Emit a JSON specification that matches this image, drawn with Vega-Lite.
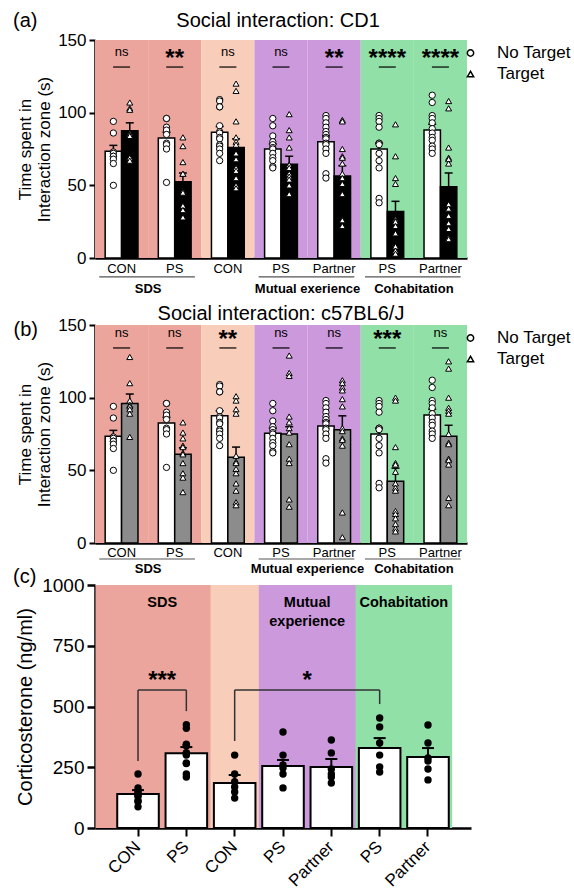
{
"$schema":"https://vega.github.io/schema/vega-lite/v6.json",
"background":"white",
"padding":{"left":13,"top":11,"right":0,"bottom":0},
"bounds":"flush",
"spacing":42,
"config":{
 "view":{"stroke":null},
 "font":"Liberation Sans",
 "axis":{"grid":false,"domainColor":"black","tickColor":"black","labelColor":"black","titleColor":"black","labelFont":"Liberation Sans","titleFont":"Liberation Sans","zindex":1},
 "text":{"font":"Liberation Sans","color":"black"},
 "tick":{"opacity":1},
 "title":{"font":"Liberation Sans","fontWeight":"normal","color":"black","fontSize":20}
},
"datasets":{
 "grp_a":[
  {"grp":"SDS-CON","cohort":"SDS","sig":"ns"},{"grp":"SDS-PS","cohort":"SDS","sig":"**"},{"grp":"CON","cohort":"CON","sig":"ns"},{"grp":"ME-PS","cohort":"ME","sig":"ns"},{"grp":"ME-Partner","cohort":"ME","sig":"**"},{"grp":"Coh-PS","cohort":"Coh","sig":"****"},{"grp":"Coh-Partner","cohort":"Coh","sig":"****"}],
 "grp_b":[
  {"grp":"SDS-CON","cohort":"SDS","sig":"ns"},{"grp":"SDS-PS","cohort":"SDS","sig":"ns"},{"grp":"CON","cohort":"CON","sig":"**"},{"grp":"ME-PS","cohort":"ME","sig":"ns"},{"grp":"ME-Partner","cohort":"ME","sig":"ns"},{"grp":"Coh-PS","cohort":"Coh","sig":"***"},{"grp":"Coh-Partner","cohort":"Coh","sig":"ns"}],
 "under_a":[
  {"from":"SDS-CON","to":"SDS-PS","label":"SDS"},{"from":"ME-PS","to":"ME-Partner","label":"Mutual exerience"},{"from":"Coh-PS","to":"Coh-Partner","label":"Cohabitation"}],
 "under_b":[
  {"from":"SDS-CON","to":"SDS-PS","label":"SDS"},{"from":"ME-PS","to":"ME-Partner","label":"Mutual experience"},{"from":"Coh-PS","to":"Coh-Partner","label":"Cohabitation"}],
 "bands_c":[
  {"cohort":"Coh","from":"Coh-PS","to":"Coh-Partner"},{"cohort":"ME","from":"ME-PS","to":"ME-Partner"},{"cohort":"CON","from":"CON","to":"CON"},{"cohort":"SDS","from":"SDS-CON","to":"SDS-PS"}],
 "labels_c":[
  {"label":"SDS","at":"SDS-PS"},{"label":"Mutual\nexperience","at":"ME-Partner"},{"label":"Cohabitation","at":"Coh-Partner"}],
 "brk_c":[
  {"from":"SDS-CON","to":"SDS-PS","mid":"SDS-PS","top":568,"lb":276,"rb":481,"label":"***"},
  {"from":"CON","to":"Coh-PS","mid":"ME-Partner","top":568,"lb":358,"rb":510,"label":"*"}],
 "sum_a":[
  {"grp":"SDS-CON","tgt":"No Target","mean":73.5,"hi":77.5},{"grp":"SDS-CON","tgt":"Target","mean":87.5,"hi":93},
  {"grp":"SDS-PS","tgt":"No Target","mean":82.5,"hi":86.5},{"grp":"SDS-PS","tgt":"Target","mean":52.5,"hi":58.5},
  {"grp":"CON","tgt":"No Target","mean":86.5,"hi":90.5},{"grp":"CON","tgt":"Target","mean":76,"hi":82},
  {"grp":"ME-PS","tgt":"No Target","mean":75,"hi":78.5},{"grp":"ME-PS","tgt":"Target","mean":64.5,"hi":70},
  {"grp":"ME-Partner","tgt":"No Target","mean":80,"hi":84},{"grp":"ME-Partner","tgt":"Target","mean":56.5,"hi":63.5},
  {"grp":"Coh-PS","tgt":"No Target","mean":75,"hi":79},{"grp":"Coh-PS","tgt":"Target","mean":32,"hi":39},
  {"grp":"Coh-Partner","tgt":"No Target","mean":88,"hi":92},{"grp":"Coh-Partner","tgt":"Target","mean":49,"hi":58.5}],
 "sum_b":[
  {"grp":"SDS-CON","tgt":"No Target","mean":73.5,"hi":77.5},{"grp":"SDS-CON","tgt":"Target","mean":96,"hi":102.5},
  {"grp":"SDS-PS","tgt":"No Target","mean":82.5,"hi":86.5},{"grp":"SDS-PS","tgt":"Target","mean":61,"hi":65.5},
  {"grp":"CON","tgt":"No Target","mean":87.5,"hi":91},{"grp":"CON","tgt":"Target","mean":59,"hi":66},
  {"grp":"ME-PS","tgt":"No Target","mean":75.5,"hi":79},{"grp":"ME-PS","tgt":"Target","mean":75,"hi":80},
  {"grp":"ME-Partner","tgt":"No Target","mean":80.5,"hi":84},{"grp":"ME-Partner","tgt":"Target","mean":78,"hi":87.5},
  {"grp":"Coh-PS","tgt":"No Target","mean":75,"hi":79},{"grp":"Coh-PS","tgt":"Target","mean":42.5,"hi":51.5},
  {"grp":"Coh-Partner","tgt":"No Target","mean":88,"hi":92},{"grp":"Coh-Partner","tgt":"Target","mean":73.5,"hi":81}],
 "sum_c":[
  {"grp":"SDS-CON","mean":140,"hi":156},{"grp":"SDS-PS","mean":308,"hi":333},{"grp":"CON","mean":185,"hi":218},{"grp":"ME-PS","mean":255,"hi":280},{"grp":"ME-Partner","mean":251,"hi":284},{"grp":"Coh-PS","mean":329,"hi":370},{"grp":"Coh-Partner","mean":292,"hi":329}],
 "nt":[
  {"grp":"SDS-CON","tgt":"No Target","v":94},{"grp":"SDS-CON","tgt":"No Target","v":86},{"grp":"SDS-CON","tgt":"No Target","v":73},{"grp":"SDS-CON","tgt":"No Target","v":72},{"grp":"SDS-CON","tgt":"No Target","v":70},{"grp":"SDS-CON","tgt":"No Target","v":70},{"grp":"SDS-CON","tgt":"No Target","v":68},{"grp":"SDS-CON","tgt":"No Target","v":65},{"grp":"SDS-CON","tgt":"No Target","v":50},
  {"grp":"SDS-PS","tgt":"No Target","v":96},{"grp":"SDS-PS","tgt":"No Target","v":96},{"grp":"SDS-PS","tgt":"No Target","v":90},{"grp":"SDS-PS","tgt":"No Target","v":88},{"grp":"SDS-PS","tgt":"No Target","v":85},{"grp":"SDS-PS","tgt":"No Target","v":79},{"grp":"SDS-PS","tgt":"No Target","v":78},{"grp":"SDS-PS","tgt":"No Target","v":75},{"grp":"SDS-PS","tgt":"No Target","v":52},
  {"grp":"CON","tgt":"No Target","v":109},{"grp":"CON","tgt":"No Target","v":108},{"grp":"CON","tgt":"No Target","v":104},{"grp":"CON","tgt":"No Target","v":104},{"grp":"CON","tgt":"No Target","v":91},{"grp":"CON","tgt":"No Target","v":87},{"grp":"CON","tgt":"No Target","v":86},{"grp":"CON","tgt":"No Target","v":83},{"grp":"CON","tgt":"No Target","v":82},{"grp":"CON","tgt":"No Target","v":78},{"grp":"CON","tgt":"No Target","v":77},{"grp":"CON","tgt":"No Target","v":75},{"grp":"CON","tgt":"No Target","v":72},{"grp":"CON","tgt":"No Target","v":67},
  {"grp":"ME-PS","tgt":"No Target","v":96},{"grp":"ME-PS","tgt":"No Target","v":91},{"grp":"ME-PS","tgt":"No Target","v":84},{"grp":"ME-PS","tgt":"No Target","v":80},{"grp":"ME-PS","tgt":"No Target","v":78},{"grp":"ME-PS","tgt":"No Target","v":76},{"grp":"ME-PS","tgt":"No Target","v":75},{"grp":"ME-PS","tgt":"No Target","v":72},{"grp":"ME-PS","tgt":"No Target","v":69},{"grp":"ME-PS","tgt":"No Target","v":67},{"grp":"ME-PS","tgt":"No Target","v":63},{"grp":"ME-PS","tgt":"No Target","v":62},
  {"grp":"ME-Partner","tgt":"No Target","v":98},{"grp":"ME-Partner","tgt":"No Target","v":96},{"grp":"ME-Partner","tgt":"No Target","v":93},{"grp":"ME-Partner","tgt":"No Target","v":90},{"grp":"ME-Partner","tgt":"No Target","v":87},{"grp":"ME-Partner","tgt":"No Target","v":85},{"grp":"ME-Partner","tgt":"No Target","v":83},{"grp":"ME-Partner","tgt":"No Target","v":82},{"grp":"ME-Partner","tgt":"No Target","v":79},{"grp":"ME-Partner","tgt":"No Target","v":78},{"grp":"ME-Partner","tgt":"No Target","v":75},{"grp":"ME-Partner","tgt":"No Target","v":72},{"grp":"ME-Partner","tgt":"No Target","v":58},{"grp":"ME-Partner","tgt":"No Target","v":55},
  {"grp":"Coh-PS","tgt":"No Target","v":98},{"grp":"Coh-PS","tgt":"No Target","v":96},{"grp":"Coh-PS","tgt":"No Target","v":94},{"grp":"Coh-PS","tgt":"No Target","v":90},{"grp":"Coh-PS","tgt":"No Target","v":79},{"grp":"Coh-PS","tgt":"No Target","v":79},{"grp":"Coh-PS","tgt":"No Target","v":78},{"grp":"Coh-PS","tgt":"No Target","v":72},{"grp":"Coh-PS","tgt":"No Target","v":67},{"grp":"Coh-PS","tgt":"No Target","v":62},{"grp":"Coh-PS","tgt":"No Target","v":41},{"grp":"Coh-PS","tgt":"No Target","v":38},
  {"grp":"Coh-Partner","tgt":"No Target","v":112},{"grp":"Coh-Partner","tgt":"No Target","v":107},{"grp":"Coh-Partner","tgt":"No Target","v":98},{"grp":"Coh-Partner","tgt":"No Target","v":96},{"grp":"Coh-Partner","tgt":"No Target","v":93},{"grp":"Coh-Partner","tgt":"No Target","v":89},{"grp":"Coh-Partner","tgt":"No Target","v":86},{"grp":"Coh-Partner","tgt":"No Target","v":83},{"grp":"Coh-Partner","tgt":"No Target","v":81},{"grp":"Coh-Partner","tgt":"No Target","v":77},{"grp":"Coh-Partner","tgt":"No Target","v":75},{"grp":"Coh-Partner","tgt":"No Target","v":72}],
 "ta":[
  {"grp":"SDS-CON","tgt":"Target","v":107},{"grp":"SDS-CON","tgt":"Target","v":103},{"grp":"SDS-CON","tgt":"Target","v":102},{"grp":"SDS-CON","tgt":"Target","v":86},{"grp":"SDS-CON","tgt":"Target","v":85},{"grp":"SDS-CON","tgt":"Target","v":84},{"grp":"SDS-CON","tgt":"Target","v":69},{"grp":"SDS-CON","tgt":"Target","v":67},
  {"grp":"SDS-PS","tgt":"Target","v":83},{"grp":"SDS-PS","tgt":"Target","v":77},{"grp":"SDS-PS","tgt":"Target","v":66},{"grp":"SDS-PS","tgt":"Target","v":58},{"grp":"SDS-PS","tgt":"Target","v":58},{"grp":"SDS-PS","tgt":"Target","v":46},{"grp":"SDS-PS","tgt":"Target","v":45},{"grp":"SDS-PS","tgt":"Target","v":36},{"grp":"SDS-PS","tgt":"Target","v":33},{"grp":"SDS-PS","tgt":"Target","v":28},
  {"grp":"CON","tgt":"Target","v":120},{"grp":"CON","tgt":"Target","v":115},{"grp":"CON","tgt":"Target","v":94},{"grp":"CON","tgt":"Target","v":83},{"grp":"CON","tgt":"Target","v":80},{"grp":"CON","tgt":"Target","v":78},{"grp":"CON","tgt":"Target","v":72},{"grp":"CON","tgt":"Target","v":68},{"grp":"CON","tgt":"Target","v":62},{"grp":"CON","tgt":"Target","v":60},{"grp":"CON","tgt":"Target","v":55},{"grp":"CON","tgt":"Target","v":50},{"grp":"CON","tgt":"Target","v":48},
  {"grp":"ME-PS","tgt":"Target","v":99},{"grp":"ME-PS","tgt":"Target","v":88},{"grp":"ME-PS","tgt":"Target","v":83},{"grp":"ME-PS","tgt":"Target","v":76},{"grp":"ME-PS","tgt":"Target","v":64},{"grp":"ME-PS","tgt":"Target","v":62},{"grp":"ME-PS","tgt":"Target","v":58},{"grp":"ME-PS","tgt":"Target","v":56},{"grp":"ME-PS","tgt":"Target","v":54},{"grp":"ME-PS","tgt":"Target","v":50},{"grp":"ME-PS","tgt":"Target","v":44},
  {"grp":"ME-Partner","tgt":"Target","v":95},{"grp":"ME-Partner","tgt":"Target","v":94},{"grp":"ME-Partner","tgt":"Target","v":75},{"grp":"ME-Partner","tgt":"Target","v":70},{"grp":"ME-Partner","tgt":"Target","v":69},{"grp":"ME-Partner","tgt":"Target","v":65},{"grp":"ME-Partner","tgt":"Target","v":58},{"grp":"ME-Partner","tgt":"Target","v":55},{"grp":"ME-Partner","tgt":"Target","v":51},{"grp":"ME-Partner","tgt":"Target","v":44},{"grp":"ME-Partner","tgt":"Target","v":26},{"grp":"ME-Partner","tgt":"Target","v":22},
  {"grp":"Coh-PS","tgt":"Target","v":92},{"grp":"Coh-PS","tgt":"Target","v":70},{"grp":"Coh-PS","tgt":"Target","v":55},{"grp":"Coh-PS","tgt":"Target","v":51},{"grp":"Coh-PS","tgt":"Target","v":27},{"grp":"Coh-PS","tgt":"Target","v":26},{"grp":"Coh-PS","tgt":"Target","v":25},{"grp":"Coh-PS","tgt":"Target","v":22},{"grp":"Coh-PS","tgt":"Target","v":17},{"grp":"Coh-PS","tgt":"Target","v":8},{"grp":"Coh-PS","tgt":"Target","v":5},{"grp":"Coh-PS","tgt":"Target","v":3},
  {"grp":"Coh-Partner","tgt":"Target","v":108},{"grp":"Coh-Partner","tgt":"Target","v":103},{"grp":"Coh-Partner","tgt":"Target","v":76},{"grp":"Coh-Partner","tgt":"Target","v":69},{"grp":"Coh-Partner","tgt":"Target","v":68},{"grp":"Coh-Partner","tgt":"Target","v":65},{"grp":"Coh-Partner","tgt":"Target","v":37},{"grp":"Coh-Partner","tgt":"Target","v":34},{"grp":"Coh-Partner","tgt":"Target","v":29},{"grp":"Coh-Partner","tgt":"Target","v":24},{"grp":"Coh-Partner","tgt":"Target","v":20},{"grp":"Coh-Partner","tgt":"Target","v":14},{"grp":"Coh-Partner","tgt":"Target","v":13}],
 "tb":[
  {"grp":"SDS-CON","tgt":"Target","v":128},{"grp":"SDS-CON","tgt":"Target","v":110},{"grp":"SDS-CON","tgt":"Target","v":98},{"grp":"SDS-CON","tgt":"Target","v":95},{"grp":"SDS-CON","tgt":"Target","v":94},{"grp":"SDS-CON","tgt":"Target","v":92},{"grp":"SDS-CON","tgt":"Target","v":89},{"grp":"SDS-CON","tgt":"Target","v":73},
  {"grp":"SDS-PS","tgt":"Target","v":83},{"grp":"SDS-PS","tgt":"Target","v":76},{"grp":"SDS-PS","tgt":"Target","v":72},{"grp":"SDS-PS","tgt":"Target","v":67},{"grp":"SDS-PS","tgt":"Target","v":66},{"grp":"SDS-PS","tgt":"Target","v":62},{"grp":"SDS-PS","tgt":"Target","v":61},{"grp":"SDS-PS","tgt":"Target","v":55},{"grp":"SDS-PS","tgt":"Target","v":48},{"grp":"SDS-PS","tgt":"Target","v":45},{"grp":"SDS-PS","tgt":"Target","v":35},
  {"grp":"CON","tgt":"Target","v":101},{"grp":"CON","tgt":"Target","v":98},{"grp":"CON","tgt":"Target","v":92},{"grp":"CON","tgt":"Target","v":89},{"grp":"CON","tgt":"Target","v":60},{"grp":"CON","tgt":"Target","v":56},{"grp":"CON","tgt":"Target","v":55},{"grp":"CON","tgt":"Target","v":51},{"grp":"CON","tgt":"Target","v":48},{"grp":"CON","tgt":"Target","v":41},{"grp":"CON","tgt":"Target","v":36},{"grp":"CON","tgt":"Target","v":28},{"grp":"CON","tgt":"Target","v":26},
  {"grp":"ME-PS","tgt":"Target","v":129},{"grp":"ME-PS","tgt":"Target","v":117},{"grp":"ME-PS","tgt":"Target","v":115},{"grp":"ME-PS","tgt":"Target","v":87},{"grp":"ME-PS","tgt":"Target","v":83},{"grp":"ME-PS","tgt":"Target","v":79},{"grp":"ME-PS","tgt":"Target","v":76},{"grp":"ME-PS","tgt":"Target","v":68},{"grp":"ME-PS","tgt":"Target","v":58},{"grp":"ME-PS","tgt":"Target","v":55},{"grp":"ME-PS","tgt":"Target","v":30},{"grp":"ME-PS","tgt":"Target","v":25},
  {"grp":"ME-Partner","tgt":"Target","v":112},{"grp":"ME-Partner","tgt":"Target","v":110},{"grp":"ME-Partner","tgt":"Target","v":107},{"grp":"ME-Partner","tgt":"Target","v":105},{"grp":"ME-Partner","tgt":"Target","v":99},{"grp":"ME-Partner","tgt":"Target","v":94},{"grp":"ME-Partner","tgt":"Target","v":79},{"grp":"ME-Partner","tgt":"Target","v":77},{"grp":"ME-Partner","tgt":"Target","v":72},{"grp":"ME-Partner","tgt":"Target","v":71},{"grp":"ME-Partner","tgt":"Target","v":67},{"grp":"ME-Partner","tgt":"Target","v":21},{"grp":"ME-Partner","tgt":"Target","v":4},
  {"grp":"Coh-PS","tgt":"Target","v":100},{"grp":"Coh-PS","tgt":"Target","v":98},{"grp":"Coh-PS","tgt":"Target","v":66},{"grp":"Coh-PS","tgt":"Target","v":55},{"grp":"Coh-PS","tgt":"Target","v":54},{"grp":"Coh-PS","tgt":"Target","v":49},{"grp":"Coh-PS","tgt":"Target","v":41},{"grp":"Coh-PS","tgt":"Target","v":38},{"grp":"Coh-PS","tgt":"Target","v":36},{"grp":"Coh-PS","tgt":"Target","v":22},{"grp":"Coh-PS","tgt":"Target","v":20},{"grp":"Coh-PS","tgt":"Target","v":17},{"grp":"Coh-PS","tgt":"Target","v":13},{"grp":"Coh-PS","tgt":"Target","v":10},{"grp":"Coh-PS","tgt":"Target","v":8},
  {"grp":"Coh-Partner","tgt":"Target","v":125},{"grp":"Coh-Partner","tgt":"Target","v":120},{"grp":"Coh-Partner","tgt":"Target","v":100},{"grp":"Coh-Partner","tgt":"Target","v":93},{"grp":"Coh-Partner","tgt":"Target","v":91},{"grp":"Coh-Partner","tgt":"Target","v":89},{"grp":"Coh-Partner","tgt":"Target","v":75},{"grp":"Coh-Partner","tgt":"Target","v":69},{"grp":"Coh-Partner","tgt":"Target","v":68},{"grp":"Coh-Partner","tgt":"Target","v":58},{"grp":"Coh-Partner","tgt":"Target","v":57},{"grp":"Coh-Partner","tgt":"Target","v":54},{"grp":"Coh-Partner","tgt":"Target","v":31},{"grp":"Coh-Partner","tgt":"Target","v":26}],
 "pts_c":[
  {"grp":"SDS-CON","v":222},{"grp":"SDS-CON","v":165},{"grp":"SDS-CON","v":152},{"grp":"SDS-CON","v":145},{"grp":"SDS-CON","v":135},{"grp":"SDS-CON","v":130},{"grp":"SDS-CON","v":112},{"grp":"SDS-CON","v":108},{"grp":"SDS-CON","v":87},
  {"grp":"SDS-PS","v":425},{"grp":"SDS-PS","v":410},{"grp":"SDS-PS","v":345},{"grp":"SDS-PS","v":340},{"grp":"SDS-PS","v":338},{"grp":"SDS-PS","v":310},{"grp":"SDS-PS","v":305},{"grp":"SDS-PS","v":300},{"grp":"SDS-PS","v":268},{"grp":"SDS-PS","v":265},{"grp":"SDS-PS","v":222},{"grp":"SDS-PS","v":210},
  {"grp":"CON","v":300},{"grp":"CON","v":222},{"grp":"CON","v":190},{"grp":"CON","v":169},{"grp":"CON","v":148},{"grp":"CON","v":123},
  {"grp":"ME-PS","v":395},{"grp":"ME-PS","v":300},{"grp":"ME-PS","v":259},{"grp":"ME-PS","v":247},{"grp":"ME-PS","v":222},{"grp":"ME-PS","v":165},
  {"grp":"ME-Partner","v":362},{"grp":"ME-Partner","v":309},{"grp":"ME-Partner","v":243},{"grp":"ME-Partner","v":222},{"grp":"ME-Partner","v":210},{"grp":"ME-Partner","v":185},
  {"grp":"Coh-PS","v":453},{"grp":"Coh-PS","v":416},{"grp":"Coh-PS","v":350},{"grp":"Coh-PS","v":300},{"grp":"Coh-PS","v":251},{"grp":"Coh-PS","v":230},
  {"grp":"Coh-Partner","v":424},{"grp":"Coh-Partner","v":350},{"grp":"Coh-Partner","v":288},{"grp":"Coh-Partner","v":276},{"grp":"Coh-Partner","v":243},{"grp":"Coh-Partner","v":198}]
},
"vconcat":[
 {
  "width":372,"height":218,
  "title":{"text":"(a)\u00a0\u00a0\u00a0\u00a0\u00a0\u00a0\u00a0\u00a0\u00a0\u00a0\u00a0\u00a0\u00a0\u00a0\u00a0\u00a0\u00a0\u00a0\u00a0\u00a0\u00a0\u00a0\u00a0\u00a0\u00a0Social interaction: CD1","anchor":"start","frame":"group","dx":-82,"offset":-16,"baseline":"alphabetic"},
  "layer":[
   {"data":{"name":"grp_a"},"mark":{"type":"rect"},
    "encoding":{
     "x":{"field":"grp","type":"nominal","scale":{"domain":["SDS-CON","SDS-PS","CON","ME-PS","ME-Partner","Coh-PS","Coh-Partner"],"paddingInner":0,"paddingOuter":0},"axis":{"title":null,"labelAngle":0,"ticks":false,"tickSize":0,"labelPadding":4,"labelFontSize":13,"domainWidth":2.5,"labelExpr":"peek(split(datum.label,'-'))"}},
     "y":{"datum":0,"type":"quantitative","scale":{"domain":[0,150],"nice":false},"axis":{"title":["Time spent in","Interaction zone (s)"],"values":[0,50,100,150],"titleFontSize":17,"titleFontWeight":"normal","labelFontSize":17,"tickSize":6,"tickWidth":2,"domainWidth":2.5,"labelPadding":3,"titlePadding":4}},
     "y2":{"datum":150},
     "color":{"field":"cohort","type":"nominal","scale":{"domain":["SDS","CON","ME","Coh"],"range":["#EBA59C","#F8CDB9","#CC99DD","#90E0A8"]},"legend":null}}},
   {"data":{"name":"sum_a"},"mark":{"type":"bar","stroke":"black","strokeWidth":1.5},
    "encoding":{"x":{"field":"grp","type":"nominal"},"xOffset":{"field":"tgt","type":"nominal","scale":{"domain":["No Target","Target"],"paddingOuter":0.62,"paddingInner":0}},"y":{"field":"mean","type":"quantitative"},
     "fill":{"condition":{"test":"datum.tgt === 'Target'","value":"black"},"value":"white"}}},
   {"data":{"name":"sum_a"},"mark":{"type":"rule","color":"black","strokeWidth":1.5},
    "encoding":{"x":{"field":"grp","type":"nominal"},"xOffset":{"field":"tgt","type":"nominal"},"y":{"field":"mean","type":"quantitative"},"y2":{"field":"hi"}}},
   {"data":{"name":"sum_a"},"mark":{"type":"tick","color":"black","size":8,"thickness":1.5,"opacity":1},
    "encoding":{"x":{"field":"grp","type":"nominal"},"xOffset":{"field":"tgt","type":"nominal"},"y":{"field":"hi","type":"quantitative"}}},
   {"data":{"name":"nt"},"mark":{"type":"point","filled":true,"fill":"white","stroke":"black","strokeWidth":1,"size":40,"opacity":1},
    "encoding":{"x":{"field":"grp","type":"nominal"},"xOffset":{"field":"tgt","type":"nominal"},"y":{"field":"v","type":"quantitative"},
     "shape":{"field":"tgt","type":"nominal","scale":{"domain":["No Target","Target"],"range":["circle","triangle-up"]},
      "legend":{"title":null,"orient":"none","legendX":367,"legendY":4.5,"padding":0,"labelFontSize":17,"labelOffset":18,"rowPadding":3,"symbolSize":40,"labelColor":"black","labelFont":"Liberation Sans",
       "encode":{"symbols":{"update":{"fill":{"value":"white"},"stroke":{"value":"black"},"strokeWidth":{"value":1},"size":{"value":40},"opacity":{"value":1}}}}}}}},
   {"data":{"name":"ta"},"mark":{"type":"point","filled":true,"fill":"white","stroke":"black","strokeWidth":1,"size":36,"opacity":1},
    "encoding":{"x":{"field":"grp","type":"nominal"},"xOffset":{"field":"tgt","type":"nominal"},"y":{"field":"v","type":"quantitative"},"shape":{"field":"tgt","type":"nominal"}}},
   {"data":{"name":"grp_a"},"mark":{"type":"tick","color":"black","size":17,"thickness":1.2,"opacity":1},
    "encoding":{"x":{"field":"grp","type":"nominal"},"y":{"datum":131.4,"type":"quantitative"}}},
   {"data":{"name":"grp_a"},"transform":[{"filter":"datum.sig === 'ns'"}],"mark":{"type":"text","fontSize":13,"baseline":"alphabetic"},
    "encoding":{"x":{"field":"grp","type":"nominal"},"y":{"datum":138.7,"type":"quantitative"},"text":{"field":"sig"}}},
   {"data":{"name":"grp_a"},"transform":[{"filter":"datum.sig !== 'ns'"}],"mark":{"type":"text","fontSize":24,"fontWeight":"bold","baseline":"alphabetic"},
    "encoding":{"x":{"field":"grp","type":"nominal"},"y":{"datum":132.4,"type":"quantitative"},"text":{"field":"sig"}}},
   {"data":{"name":"under_a"},"mark":{"type":"rule","color":"#555555","strokeWidth":1.2},
    "encoding":{"x":{"field":"from","type":"nominal","bandPosition":0.08},"x2":{"field":"to","bandPosition":0.88},"y":{"datum":-13,"type":"quantitative"}}},
   {"data":{"name":"under_a"},"mark":{"type":"text","fontSize":13,"fontWeight":"bold","baseline":"middle"},
    "encoding":{"x":{"field":"to","type":"nominal","bandPosition":0},"y":{"datum":-21.5,"type":"quantitative"},"text":{"field":"label"}}}
  ]
 },
 {
  "width":372,"height":243,
  "title":{"text":"Social interaction: c57BL6/J","anchor":"middle","frame":"group","offset":-39.5,"baseline":"alphabetic"},
  "layer":[
   {"data":{"name":"grp_b"},"mark":{"type":"rect"},
    "encoding":{
     "x":{"field":"grp","type":"nominal","scale":{"domain":["SDS-CON","SDS-PS","CON","ME-PS","ME-Partner","Coh-PS","Coh-Partner"],"paddingInner":0,"paddingOuter":0},"axis":{"title":null,"labelAngle":0,"ticks":false,"tickSize":0,"labelPadding":3,"labelFontSize":13,"domainWidth":2.5,"labelExpr":"peek(split(datum.label,'-'))"}},
     "y":{"datum":0,"type":"quantitative","scale":{"domain":[0,150],"range":[243,25],"nice":false},"axis":{"title":["Time spent in","Interaction zone (s)"],"values":[0,50,100,150],"titleFontSize":17,"titleFontWeight":"normal","labelFontSize":17,"tickSize":6,"tickWidth":2,"domainWidth":2.5,"labelPadding":3,"titlePadding":4}},
     "y2":{"datum":150},
     "color":{"field":"cohort","type":"nominal","scale":{"domain":["SDS","CON","ME","Coh"],"range":["#EBA59C","#F8CDB9","#CC99DD","#90E0A8"]},"legend":null}}},
   {"data":{"name":"sum_b"},"mark":{"type":"bar","stroke":"black","strokeWidth":1.5},
    "encoding":{"x":{"field":"grp","type":"nominal"},"xOffset":{"field":"tgt","type":"nominal","scale":{"domain":["No Target","Target"],"paddingOuter":0.62,"paddingInner":0}},"y":{"field":"mean","type":"quantitative"},
     "fill":{"condition":{"test":"datum.tgt === 'Target'","value":"#8C8C8C"},"value":"white"}}},
   {"data":{"name":"sum_b"},"mark":{"type":"rule","color":"black","strokeWidth":1.5},
    "encoding":{"x":{"field":"grp","type":"nominal"},"xOffset":{"field":"tgt","type":"nominal"},"y":{"field":"mean","type":"quantitative"},"y2":{"field":"hi"}}},
   {"data":{"name":"sum_b"},"mark":{"type":"tick","color":"black","size":8,"thickness":1.5,"opacity":1},
    "encoding":{"x":{"field":"grp","type":"nominal"},"xOffset":{"field":"tgt","type":"nominal"},"y":{"field":"hi","type":"quantitative"}}},
   {"data":{"name":"nt"},"mark":{"type":"point","filled":true,"fill":"white","stroke":"black","strokeWidth":1,"size":40,"opacity":1},
    "encoding":{"x":{"field":"grp","type":"nominal"},"xOffset":{"field":"tgt","type":"nominal"},"y":{"field":"v","type":"quantitative"},
     "shape":{"field":"tgt","type":"nominal","scale":{"domain":["No Target","Target"],"range":["circle","triangle-up"]},
      "legend":{"title":null,"orient":"none","legendX":367,"legendY":29.5,"padding":0,"labelFontSize":17,"labelOffset":18,"rowPadding":3,"symbolSize":40,"labelColor":"black","labelFont":"Liberation Sans",
       "encode":{"symbols":{"update":{"fill":{"value":"white"},"stroke":{"value":"black"},"strokeWidth":{"value":1},"size":{"value":40},"opacity":{"value":1}}}}}}}},
   {"data":{"name":"tb"},"mark":{"type":"point","filled":true,"fill":"white","stroke":"black","strokeWidth":1,"size":36,"opacity":1},
    "encoding":{"x":{"field":"grp","type":"nominal"},"xOffset":{"field":"tgt","type":"nominal"},"y":{"field":"v","type":"quantitative"},"shape":{"field":"tgt","type":"nominal"}}},
   {"data":{"name":"grp_b"},"mark":{"type":"tick","color":"black","size":17,"thickness":1.2,"opacity":1},
    "encoding":{"x":{"field":"grp","type":"nominal"},"y":{"datum":134.2,"type":"quantitative"}}},
   {"data":{"name":"grp_b"},"transform":[{"filter":"datum.sig === 'ns'"}],"mark":{"type":"text","fontSize":13,"baseline":"alphabetic"},
    "encoding":{"x":{"field":"grp","type":"nominal"},"y":{"datum":141.5,"type":"quantitative"},"text":{"field":"sig"}}},
   {"data":{"name":"grp_b"},"transform":[{"filter":"datum.sig !== 'ns'"}],"mark":{"type":"text","fontSize":24,"fontWeight":"bold","baseline":"alphabetic"},
    "encoding":{"x":{"field":"grp","type":"nominal"},"y":{"datum":135.2,"type":"quantitative"},"text":{"field":"sig"}}},
   {"data":{"name":"under_b"},"mark":{"type":"rule","color":"#555555","strokeWidth":1.2},
    "encoding":{"x":{"field":"from","type":"nominal","bandPosition":0.08},"x2":{"field":"to","bandPosition":0.88},"y":{"datum":-11,"type":"quantitative"}}},
   {"data":{"name":"under_b"},"mark":{"type":"text","fontSize":13,"fontWeight":"bold","baseline":"middle"},
    "encoding":{"x":{"field":"to","type":"nominal","bandPosition":0},"y":{"datum":-17.9,"type":"quantitative"},"text":{"field":"label"}}},
   {"data":{"values":[{"lab":"(b)"}]},"mark":{"type":"text","fontSize":20,"align":"left","baseline":"middle"},
    "encoding":{"x":{"datum":"SDS-CON","type":"nominal","bandPosition":-1.534},"y":{"datum":146.3,"type":"quantitative"},"text":{"field":"lab"}}}
  ]
 },
 {
  "width":376,"height":243,
  "title":{"text":"(c)","anchor":"start","frame":"group","dx":-82,"offset":-26.5,"baseline":"alphabetic"},
  "layer":[
   {"data":{"name":"bands_c"},"mark":{"type":"rect"},
    "encoding":{
     "x":{"field":"from","type":"nominal","bandPosition":-0.38},
     "x2":{"field":"to","bandPosition":1},
     "y":{"datum":0,"type":"quantitative","scale":{"domain":[0,1000],"nice":false},"axis":{"title":"Corticosterone (ng/ml)","values":[0,250,500,750,1000],"format":"d","titleFontSize":20,"titleFontWeight":"normal","labelFontSize":19,"tickSize":8,"tickWidth":2.5,"domainWidth":2.5,"labelPadding":3,"titlePadding":6}},
     "y2":{"datum":1000},
     "color":{"field":"cohort","type":"nominal","scale":{"domain":["SDS","CON","ME","Coh"],"range":["#EBA59C","#F8CDB9","#CC99DD","#90E0A8"]},"legend":null}}},
   {"data":{"name":"sum_c"},"mark":{"type":"bar","fill":"white","stroke":"black","strokeWidth":2,"width":{"band":0.86}},
    "encoding":{"x":{"field":"grp","type":"nominal","scale":{"domain":["SDS-CON","SDS-PS","CON","ME-PS","ME-Partner","Coh-PS","Coh-Partner"],"paddingInner":0,"paddingOuter":0.39},"axis":{"title":null,"labelAngle":-45,"labelFontSize":17,"tickSize":8,"tickWidth":2,"domainWidth":2.5,"labelPadding":8,"labelExpr":"peek(split(datum.label,'-'))"}},
     "y":{"field":"mean","type":"quantitative"}}},
   {"data":{"name":"sum_c"},"mark":{"type":"rule","color":"black","strokeWidth":2},
    "encoding":{"x":{"field":"grp","type":"nominal"},"y":{"field":"mean","type":"quantitative"},"y2":{"field":"hi"}}},
   {"data":{"name":"sum_c"},"mark":{"type":"tick","color":"black","size":12,"thickness":2,"opacity":1},
    "encoding":{"x":{"field":"grp","type":"nominal"},"y":{"field":"hi","type":"quantitative"}}},
   {"data":{"name":"pts_c"},"mark":{"type":"point","filled":true,"color":"black","size":55,"opacity":1,"shape":"circle"},
    "encoding":{"x":{"field":"grp","type":"nominal"},"y":{"field":"v","type":"quantitative"}}},
   {"data":{"name":"labels_c"},"mark":{"type":"text","fontSize":14.5,"fontWeight":"bold","baseline":"middle","lineBreak":"\n","lineHeight":19},
    "encoding":{"x":{"field":"at","type":"nominal","bandPosition":0},"y":{"datum":925,"type":"quantitative"},"text":{"field":"label"}}},
   {"data":{"name":"brk_c"},"mark":{"type":"rule","color":"#333333","strokeWidth":1.5},
    "encoding":{"x":{"field":"from","type":"nominal","bandPosition":0.5},"x2":{"field":"to","bandPosition":0.5},"y":{"field":"top","type":"quantitative"}}},
   {"data":{"name":"brk_c"},"mark":{"type":"rule","color":"#333333","strokeWidth":1.5},
    "encoding":{"x":{"field":"from","type":"nominal"},"y":{"field":"top","type":"quantitative"},"y2":{"field":"lb"}}},
   {"data":{"name":"brk_c"},"mark":{"type":"rule","color":"#333333","strokeWidth":1.5},
    "encoding":{"x":{"field":"to","type":"nominal"},"y":{"field":"top","type":"quantitative"},"y2":{"field":"rb"}}},
   {"data":{"name":"brk_c"},"mark":{"type":"text","fontSize":24,"fontWeight":"bold","baseline":"alphabetic"},
    "encoding":{"x":{"field":"mid","type":"nominal","bandPosition":0},"y":{"datum":578,"type":"quantitative"},"text":{"field":"label"}}}
  ]
 }
],
"resolve":{"scale":{"shape":"independent","color":"independent","x":"independent","y":"independent","xOffset":"independent"},"legend":{"shape":"independent"}}
}
